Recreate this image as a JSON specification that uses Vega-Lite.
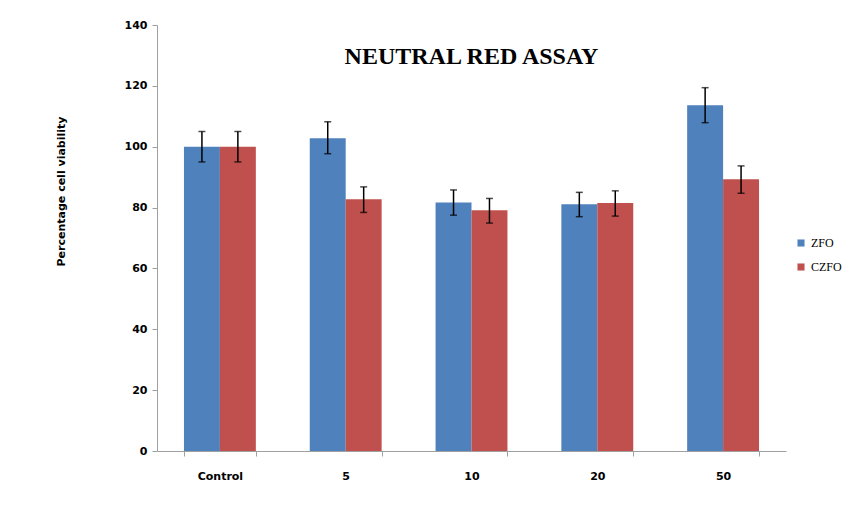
{
  "$schema": "https://vega.github.io/schema/vega-lite/v6.json",
  "width": 629,
  "height": 426,
  "autosize": {"type": "none"},
  "padding": {"left": 157, "top": 25, "right": 68, "bottom": 63},
  "background": "white",
  "view": {"stroke": null},
  "title": {
    "text": "NEUTRAL RED ASSAY",
    "font": "Liberation Serif",
    "fontSize": 24,
    "fontWeight": "bold",
    "color": "black",
    "anchor": "middle",
    "frame": "group",
    "baseline": "bottom",
    "offset": -74
  },
  "data": {
    "values": [
      {"dose": "Control", "group": "ZFO", "value": 100, "lo": 95, "hi": 105},
      {"dose": "Control", "group": "CZFO", "value": 100, "lo": 95, "hi": 105},
      {"dose": "5", "group": "ZFO", "value": 102.8, "lo": 97.7, "hi": 108.2},
      {"dose": "5", "group": "CZFO", "value": 82.7, "lo": 78.4, "hi": 86.8},
      {"dose": "10", "group": "ZFO", "value": 81.7, "lo": 77.5, "hi": 85.8},
      {"dose": "10", "group": "CZFO", "value": 79.1, "lo": 74.9, "hi": 83.0},
      {"dose": "20", "group": "ZFO", "value": 81.1, "lo": 77.0, "hi": 85.0},
      {"dose": "20", "group": "CZFO", "value": 81.5, "lo": 77.2, "hi": 85.5},
      {"dose": "50", "group": "ZFO", "value": 113.6, "lo": 107.9, "hi": 119.4},
      {"dose": "50", "group": "CZFO", "value": 89.3, "lo": 84.7, "hi": 93.7}
    ]
  },
  "encoding": {
    "x": {
      "field": "dose",
      "type": "nominal",
      "sort": ["Control", "5", "10", "20", "50"],
      "scale": {"paddingInner": 0.4286, "paddingOuter": 0.2143},
      "axis": {
        "title": null,
        "labelAngle": 0,
        "labelFont": "DejaVu Sans",
        "labelFontSize": 11,
        "labelFontWeight": "bold",
        "labelColor": "black",
        "labelPadding": 14,
        "tickBand": "extent",
        "tickSize": 5,
        "tickColor": "#a0a0a0",
        "domainColor": "#a0a0a0",
        "grid": false
      }
    },
    "xOffset": {"field": "group", "type": "nominal", "sort": ["ZFO", "CZFO"]}
  },
  "layer": [
    {
      "mark": {"type": "bar"},
      "encoding": {
        "y": {
          "field": "value",
          "type": "quantitative",
          "scale": {"domain": [0, 140]},
          "axis": {
            "title": "Percentage cell viability",
            "titleFont": "DejaVu Sans",
            "titleFontSize": 11,
            "titleFontWeight": "bold",
            "titleColor": "black",
            "titleX": -91,
            "titleY": 166,
            "values": [0, 20, 40, 60, 80, 100, 120, 140],
            "labelFont": "DejaVu Sans",
            "labelFontSize": 11,
            "labelFontWeight": "bold",
            "labelColor": "black",
            "labelPadding": 5,
            "tickSize": 5,
            "tickColor": "#a0a0a0",
            "domainColor": "#a0a0a0",
            "grid": false
          }
        },
        "color": {
          "field": "group",
          "type": "nominal",
          "sort": ["ZFO", "CZFO"],
          "scale": {"domain": ["ZFO", "CZFO"], "range": ["#4F81BD", "#C0504D"]},
          "legend": {
            "title": null,
            "orient": "none",
            "legendX": 638,
            "legendY": 212,
            "symbolType": "square",
            "symbolSize": 50,
            "symbolStrokeWidth": 0,
            "labelFont": "Liberation Serif",
            "labelFontSize": 12,
            "labelColor": "black",
            "rowPadding": 12
          }
        }
      }
    },
    {
      "mark": {"type": "rule", "color": "black", "strokeWidth": 1.5},
      "encoding": {
        "y": {"field": "lo", "type": "quantitative"},
        "y2": {"field": "hi"}
      }
    },
    {
      "mark": {"type": "tick", "color": "black", "orient": "horizontal", "size": 7, "thickness": 1.5},
      "encoding": {"y": {"field": "lo", "type": "quantitative"}}
    },
    {
      "mark": {"type": "tick", "color": "black", "orient": "horizontal", "size": 7, "thickness": 1.5},
      "encoding": {"y": {"field": "hi", "type": "quantitative"}}
    }
  ]
}
